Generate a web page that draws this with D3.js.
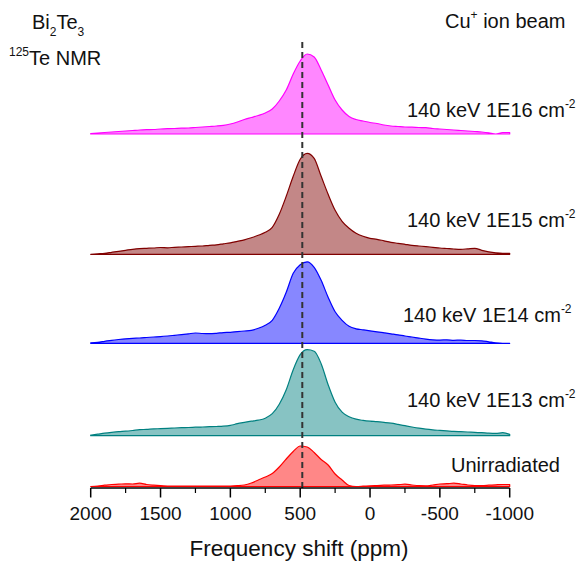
<!DOCTYPE html>
<html>
<head>
<meta charset="utf-8">
<script src="https://cdn.jsdelivr.net/npm/d3@7"></script>
<style>
  body { margin: 0; background: #fff; }
  text { font-family: Arial, "Liberation Sans", sans-serif; fill: #111; }
</style>
</head>
<body>
<svg width="587" height="563"></svg>
<script>
// shift grid (ppm), 2000 down to -1000 in 50 ppm steps
const ppm = d3.range(2000, -1001, -50);

// intensities, one value per grid point
const dose16 = [0.5,1,1.5,2,2.5,3,3.5,4,4.3,4.5,5,5.3,5.5,5.8,6,6.5,7,7.5,8,8.7,10,12,14.5,16.5,18.5,21,25,33,44,60,73,80,77,64,49,34,24,17.5,14.5,13,11.5,10.5,9,8,7.5,7,6.8,6.5,6.3,5.5,5,4.5,4,3.5,3,2.5,2,1.2,0,1.5,1.5];
const dose15 = [0,0.5,1,2,3,4,5,5.7,6,6.3,6.8,6.5,7,7.3,7.7,8,8.3,9,9.5,10.5,11.5,13,14.5,16.5,19,22,27,40,58,78,95,101,96,78,60,44,33,26,21,18,16,15,13.5,12,11,10,9,8.3,7.7,7,6.3,5.8,5.3,5,5.5,6,4,2.5,1.5,1,1];
const dose14 = [0.5,1,2,3,3.8,4.5,5,5.3,5.8,6.3,6.7,7.3,8,8.7,9.5,10.3,9.8,9.6,10,10.7,11,11.7,12.3,13,15,18,23,35,51,70,78.5,81.5,76,63,46,31.5,23,17,14.5,13.5,12.5,11.5,10.5,9.5,8.5,7.3,6.3,5.2,4.2,3.5,3.2,3.5,3,3.2,2.8,2.8,2.5,1.5,0.5,0,0];
const dose13 = [0.5,1.5,2.5,3.3,4,4.5,5.2,6,6.3,6.8,7,7.3,7.7,8,8.2,8.5,8.7,9,9.2,9.5,10.3,12,13.3,14.5,15.5,17.5,22,31.5,46,66,81,86,84.5,72,51,33.5,23.5,19,16.5,15.3,14.5,14,13.3,12.5,11.3,10,8.7,7.5,6.5,5.8,5.3,4.8,4.3,4,3.7,3.3,3,2.5,2.3,3,1.3];
const unirr = [0,0.5,1.3,2,2.3,2.7,2.5,3.3,2,1.3,0.8,0.5,0.3,0.3,0.5,0.5,0.3,0.3,0.5,0.5,0.5,0.8,1.5,3.5,6.5,9.5,13,19.5,27.5,35,40.5,39.5,34,27,21.5,12.5,6.5,1,0,0.3,0.7,1,1.3,1.5,1.8,2.3,1.5,0.8,0.7,1.5,2.5,2.8,3.3,2.5,1.5,1,1,1.3,1.7,2,2];

const seriesNames = ["140 keV 1E16 cm", "140 keV 1E15 cm", "140 keV 1E14 cm", "140 keV 1E13 cm", "Unirradiated"];
const seriesValues = [dose16, dose15, dose14, dose13, unirr];
const seriesColors = ["#ff00ff", "#800000", "#0000ff", "#008080", "#ff0000"];
const xTicks = [2000, 1500, 1000, 500, 0, -500, -1000];
const refShift = 485;

// layout
const baselines = [134, 254.3, 343.3, 435.7, 486.5];
const labelPos = [[407, 117], [407, 227], [403, 322], [407, 407], [451, 472]];
const axisY = 488;

const svg = d3.select("svg");

const x = d3.scaleLinear().domain([2000, -1000]).range([90.7, 509.7]);
const y = d3.scaleLinear().domain([0, 100]).range([0, -100]);

const area = d3.area()
  .x((d, i) => x(ppm[i]))
  .y0(0)
  .y1(d => y(d))
  .curve(d3.curveMonotoneX);

seriesValues.forEach((vals, k) => {
  const g = svg.append("g").attr("transform", `translate(0,${baselines[k]})`);
  g.append("path")
    .datum(vals)
    .attr("d", area)
    .attr("fill", seriesColors[k])
    .attr("fill-opacity", 0.47)
    .attr("stroke", seriesColors[k])
    .attr("stroke-width", 1.2)
    .attr("stroke-linejoin", "round");

  const t = svg.append("text")
    .attr("x", labelPos[k][0])
    .attr("y", labelPos[k][1])
    .attr("font-size", 20);
  t.append("tspan").text(seriesNames[k]);
  if (k < 4) {
    t.append("tspan").attr("font-size", 12).attr("dy", -9).text("-2");
  }
});

// reference dashed line
svg.append("line")
  .attr("x1", x(refShift)).attr("x2", x(refShift))
  .attr("y1", 42).attr("y2", axisY)
  .attr("stroke", "#333")
  .attr("stroke-width", 2)
  .attr("stroke-dasharray", "6,4");

// x axis
const axis = svg.append("g").attr("transform", `translate(0,${axisY})`);
axis.append("line")
  .attr("x1", x(2000)).attr("x2", x(-1000))
  .attr("stroke", "#000").attr("stroke-width", 1.5);
axis.selectAll(".minor")
  .data(d3.range(2000, -1001, -250).filter(v => v % 500 !== 0))
  .join("line")
  .attr("x1", d => x(d)).attr("x2", d => x(d))
  .attr("y1", 0).attr("y2", 5)
  .attr("stroke", "#000").attr("stroke-width", 1.2);
axis.selectAll(".major")
  .data(xTicks)
  .join("line")
  .attr("x1", d => x(d)).attr("x2", d => x(d))
  .attr("y1", 0).attr("y2", 9.5)
  .attr("stroke", "#000").attr("stroke-width", 1.5);
axis.selectAll(".lbl")
  .data(xTicks)
  .join("text")
  .attr("x", d => x(d))
  .attr("y", 32)
  .attr("text-anchor", "middle")
  .attr("font-size", 19)
  .text(d => d);

svg.append("text")
  .attr("x", 299).attr("y", 556)
  .attr("text-anchor", "middle")
  .attr("font-size", 22.5)
  .text("Frequency shift (ppm)");

// corner notes
const bt = svg.append("text").attr("x", 32).attr("y", 29).attr("font-size", 20);
bt.append("tspan").text("Bi");
bt.append("tspan").attr("font-size", 12).attr("dy", 7).text("2");
bt.append("tspan").attr("dy", -7).text("Te");
bt.append("tspan").attr("font-size", 12).attr("dy", 7).text("3");

const nmr = svg.append("text").attr("x", 9).attr("y", 65).attr("font-size", 20);
nmr.append("tspan").attr("font-size", 12).attr("dy", -9).text("125");
nmr.append("tspan").attr("dy", 9).text("Te NMR");

const cu = svg.append("text").attr("x", 445).attr("y", 28).attr("font-size", 20);
cu.append("tspan").text("Cu");
cu.append("tspan").attr("font-size", 12).attr("dy", -9).text("+");
cu.append("tspan").attr("dy", 9).text(" ion beam");
</script>
</body>
</html>
